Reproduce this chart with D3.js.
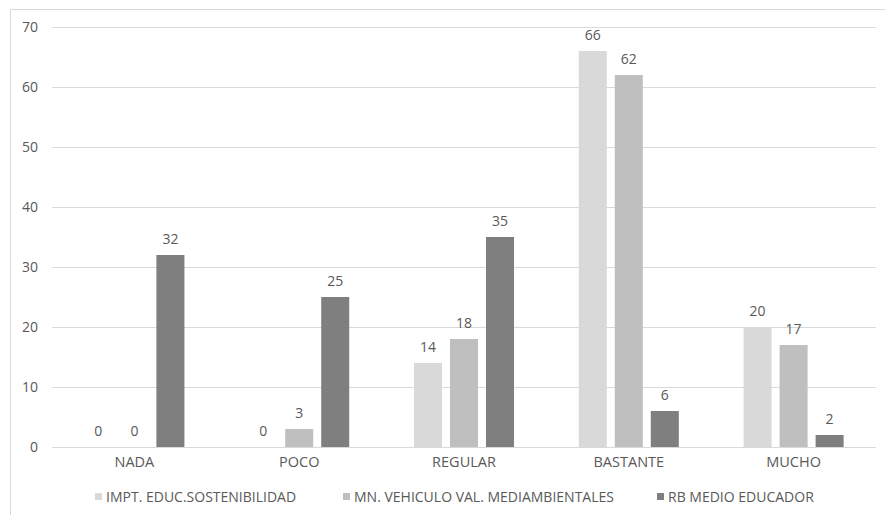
<!DOCTYPE html>
<html>
<head>
<meta charset="utf-8">
<script src="https://cdn.jsdelivr.net/npm/d3@7"></script>
<style>
  html, body { margin: 0; padding: 0; background: #fff; }
  svg { display: block; font-family: "Open Sans", "Liberation Sans", sans-serif; }
</style>
</head>
<body>
<svg id="chart" width="885" height="515"></svg>
<script>
// Survey categories and the three rated statements
const categories = ["NADA", "POCO", "REGULAR", "BASTANTE", "MUCHO"];
const seriesNames = [
  "IMPT. EDUC.SOSTENIBILIDAD",
  "MN. VEHICULO VAL. MEDIAMBIENTALES",
  "RB MEDIO EDUCADOR"
];
const imptEduc = [0, 0, 14, 66, 20];
const mnVehiculo = [0, 3, 18, 62, 17];
const rbMedio = [32, 25, 35, 6, 2];
const yTicks = [0, 10, 20, 30, 40, 50, 60, 70];

const seriesValues = [imptEduc, mnVehiculo, rbMedio];
const colors = ["#d9d9d9", "#bfbfbf", "#7f7f7f"];
const textColor = "#595959";

const svg = d3.select("#chart");

// chart frame
svg.append("path")
  .attr("d", "M10.5,520 V9.5 H885")
  .attr("fill", "none")
  .attr("stroke", "#d9d9d9")
  .attr("stroke-width", 1);

const plot = { left: 52, right: 876, top: 27, bottom: 447 };

const y = d3.scaleLinear().domain([0, 70]).range([plot.bottom, plot.top]);
const x0 = d3.scaleBand().domain(categories).range([plot.left, plot.right])
  .paddingInner(0.393).paddingOuter(0.1965);
const x1 = d3.scaleBand().domain(d3.range(seriesNames.length))
  .range([0, x0.bandwidth()]).paddingInner(0.222).paddingOuter(0);

// gridlines
svg.append("g")
  .selectAll("line")
  .data(yTicks)
  .join("line")
  .attr("x1", plot.left)
  .attr("x2", plot.right)
  .attr("y1", d => Math.round(y(d)) + 0.5)
  .attr("y2", d => Math.round(y(d)) + 0.5)
  .attr("stroke", "#d9d9d9")
  .attr("stroke-width", 1);

// y axis labels
const yAxis = svg.append("g")
  .attr("transform", `translate(${plot.left - 14},0)`)
  .call(d3.axisLeft(y).tickValues(yTicks).tickSize(0).tickPadding(0));
yAxis.select(".domain").remove();
yAxis.selectAll("text")
  .attr("fill", textColor)
  .style("font-size", "14px")
  .style("font-family", "'Open Sans', sans-serif");

// bars
const groups = svg.append("g")
  .selectAll("g")
  .data(categories)
  .join("g")
  .attr("transform", d => `translate(${x0(d)},0)`);

const barData = (c, ci) => seriesValues.map((vals, si) => ({ si, v: vals[ci] }));

groups.selectAll("rect")
  .data((c, ci) => barData(c, ci))
  .join("rect")
  .attr("x", d => x1(d.si))
  .attr("width", x1.bandwidth())
  .attr("y", d => y(d.v))
  .attr("height", d => plot.bottom - y(d.v))
  .attr("fill", d => colors[d.si]);

// value labels
groups.selectAll("text")
  .data((c, ci) => barData(c, ci))
  .join("text")
  .attr("x", d => x1(d.si) + x1.bandwidth() / 2)
  .attr("y", d => y(d.v) - 11)
  .attr("text-anchor", "middle")
  .attr("fill", textColor)
  .style("font-size", "14px")
  .text(d => d.v);

// x axis category labels
const xAxis = svg.append("g")
  .attr("transform", `translate(0,${plot.bottom + 10})`)
  .call(d3.axisBottom(x0).tickSize(0).tickPadding(0));
xAxis.select(".domain").remove();
xAxis.selectAll("text")
  .attr("fill", textColor)
  .style("font-size", "14.5px")
  .style("font-family", "'Open Sans', sans-serif");

// legend
const legendX = [95, 343, 657];
const legend = svg.append("g")
  .selectAll("g")
  .data(seriesNames)
  .join("g")
  .attr("transform", (d, i) => `translate(${legendX[i]},493)`);
legend.append("rect")
  .attr("width", 7).attr("height", 7)
  .attr("y", 0)
  .attr("fill", (d, i) => colors[i]);
legend.append("text")
  .attr("x", 11)
  .attr("y", 8.5)
  .attr("fill", textColor)
  .style("font-size", "14px")
  .text(d => d);
</script>
</body>
</html>
